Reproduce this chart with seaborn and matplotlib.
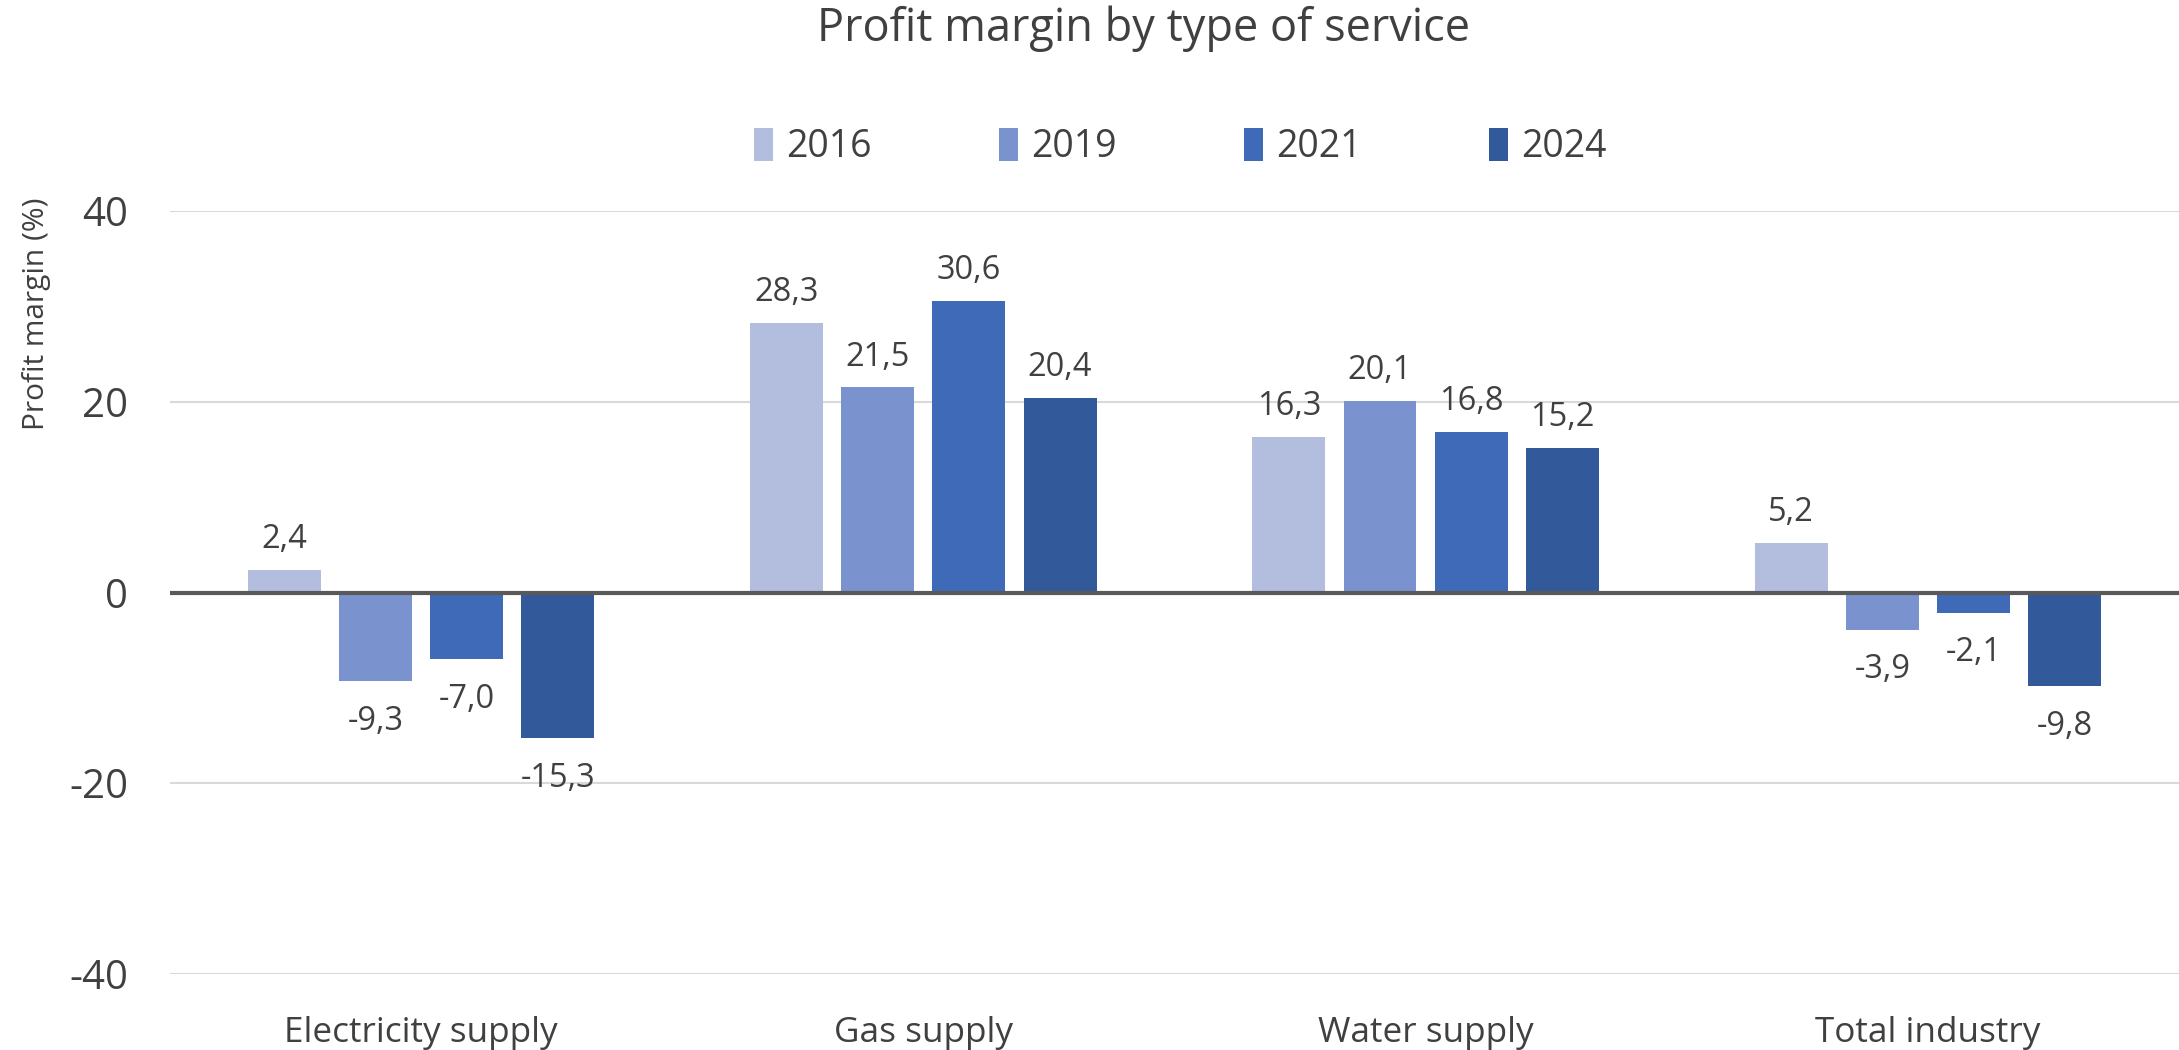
import matplotlib
matplotlib.use("Agg")
import matplotlib.pyplot as plt
import seaborn as sns
import pandas as pd

categories = ["Electricity supply", "Gas supply", "Water supply", "Total industry"]
years = ["2016", "2019", "2021", "2024"]
v2016 = [2.4, 28.3, 16.3, 5.2]
v2019 = [-9.3, 21.5, 20.1, -3.9]
v2021 = [-7.0, 30.6, 16.8, -2.1]
v2024 = [-15.3, 20.4, 15.2, -9.8]
yticks = [-40, -20, 0, 20, 40]
colors = ["#B3BEDF", "#7A93CF", "#3F6AB7", "#325A9A"]

rows = []
for yr, vals in zip(years, [v2016, v2019, v2021, v2024]):
    for c, v in zip(categories, vals):
        rows.append({"Category": c, "Year": yr, "Value": v})
df = pd.DataFrame(rows)

sns.set_theme(style="white")
plt.rcParams['font.family'] = ['Open Sans', 'DejaVu Sans']
TXT = "#404040"

fig = plt.figure(figsize=(21.79, 10.5), dpi=100)
ax = fig.add_axes([0.078, 0.0724, 0.922, 0.7266])

sns.barplot(data=df, x="Category", y="Value", hue="Year", order=categories,
            hue_order=years, palette=colors, width=0.726, gap=0.2,
            saturation=1, ax=ax, errorbar=None, linewidth=0)

ax.set_ylim(-40, 40)
ax.set_xlim(-0.5, 3.5)
ax.set_yticks(yticks)
ax.set_yticklabels([str(t) for t in yticks])
for t in yticks:
    if t != 0:
        ax.axhline(t, color="#D9D9D9", lw=1.5, zorder=0)
ax.axhline(0, color="#595959", lw=3, zorder=3)

for s in ax.spines.values():
    s.set_visible(False)
ax.tick_params(axis="y", length=0, pad=30, labelsize=29, labelcolor=TXT)
ax.tick_params(axis="x", length=0, pad=30, labelsize=25.3, labelcolor=TXT)
ax.set_xlabel("")
ax.set_ylabel("Profit margin (%)", fontsize=21.5, color=TXT)
ax.yaxis.set_label_coords(-0.059, 0.866)

for cont in ax.containers:
    heights = [b.get_height() for b in cont]
    fmt = [f"{h:.1f}".replace(".", ",") for h in heights]
    pos = [f if h >= 0 else "" for f, h in zip(fmt, heights)]
    neg = [f if h < 0 else "" for f, h in zip(fmt, heights)]
    ax.bar_label(cont, labels=pos, padding=10, fontsize=23.5, color=TXT)
    ax.bar_label(cont, labels=neg, padding=17, fontsize=23.5, color=TXT)

handles, labs = ax.get_legend_handles_labels()
if ax.legend_:
    ax.legend_.remove()
fig.legend(handles, labs, loc="center", bbox_to_anchor=(0.5416, 0.86), ncol=4,
           frameon=False, fontsize=27, handlelength=0.5, handleheight=1.0,
           handletextpad=0.35, columnspacing=3.4, labelcolor=TXT)

fig.text(0.525, 0.973, "Profit margin by type of service", ha="center", va="center",
         fontsize=32.5, color=TXT)

fig.savefig("out.png", dpi=100)
